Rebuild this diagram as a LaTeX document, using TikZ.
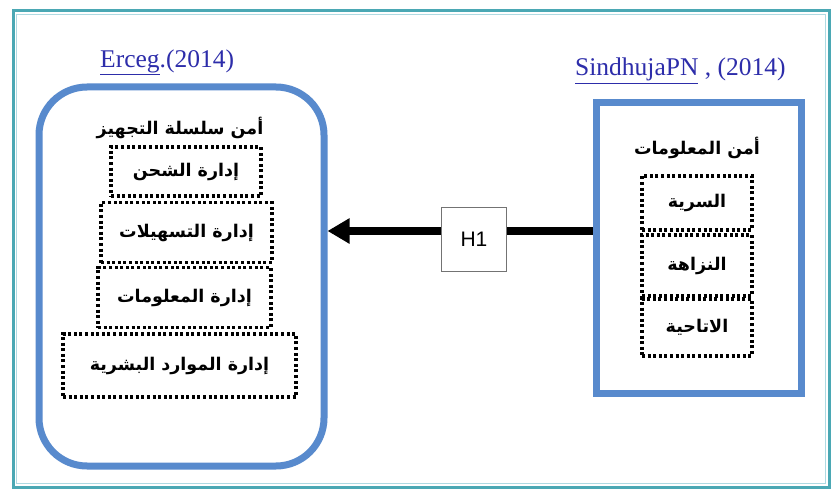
\documentclass[tikz,border=0pt]{standalone}
\usepackage{fontspec}
\setmainfont{Liberation Serif}
\newfontfamily\arabicfont[Script=Arabic]{DejaVu Sans}
\newfontfamily\hfont{Liberation Sans}
\TeXXeTstate=1
\usetikzlibrary{arrows.meta}
\definecolor{frameteal}{RGB}{75,168,180}
\definecolor{framelight}{RGB}{175,218,226}
\definecolor{boxblue}{RGB}{88,138,205}
\definecolor{refblue}{RGB}{45,45,170}
\tikzset{
  dotbox/.style={draw=black, line width=3.4pt, dash pattern=on 3pt off 2.6pt, inner sep=0pt},
  artext/.style={font=\arabicfont\bfseries\fontsize{17.5}{20}\selectfont, text=black},
  reftext/.style={font=\fontsize{25.5}{28}\selectfont, text=refblue, inner sep=0pt},
  bigbox/.style={draw=boxblue, line width=7pt},
}
\begin{document}
\begin{tikzpicture}[x=1pt,y=-1pt]
\useasboundingbox (0,0) rectangle (833,495);
\fill[white] (0,0) rectangle (833,495);
% outer frame
\draw[frameteal, line width=3pt] (13,11) rectangle (829,487);
\draw[framelight, line width=1.5pt] (16.5,14.5) rectangle (825.5,483.5);

% left rounded box
\node[bigbox, rounded corners=48pt, minimum width=285pt, minimum height=379pt] (scs) at (181.5,276.5) {};
\node[reftext, anchor=base west] (erceg) at (100,67) {\underline{Erceg}.(2014)};
\node[artext] (scstitle) at (180,128) {\beginR أمن سلسلة التجهيز\endR};
\node[dotbox, minimum width=150pt, minimum height=49pt] (b1) at (186,171.5) {};
\node[artext] (b1t) at (b1.center) {\beginR إدارة الشحن\endR};
\node[dotbox, minimum width=171pt, minimum height=60pt] (b2) at (186.5,232.5) {};
\node[artext] (b2t) at (b2.center) {\beginR إدارة التسهيلات\endR};
\node[dotbox, minimum width=173pt, minimum height=60pt] (b3) at (184.5,297.5) {};
\node[artext] (b3t) at (b3.center) {\beginR إدارة المعلومات\endR};
\node[dotbox, minimum width=233pt, minimum height=63pt] (b4) at (179.5,365.5) {};
\node[artext] (b4t) at (b4.center) {\beginR إدارة الموارد البشرية\endR};

% right box
\node[bigbox, minimum width=205pt, minimum height=291pt] (is) at (698.5,247.5) {};
\node[reftext, anchor=base west] (sind) at (575,76) {\underline{SindhujaPN} , (2014)};
\node[artext] (istitle) at (697,148) {\beginR أمن المعلومات\endR};
\node[dotbox, minimum width=110pt, minimum height=54pt] (r1) at (697,203) {};
\node[artext] (r1t) at (r1.center) {\beginR السرية\endR};
\node[dotbox, minimum width=110pt, minimum height=61pt] (r2) at (697,265.5) {};
\node[artext] (r2t) at (r2.center) {\beginR النزاهة\endR};
\node[dotbox, minimum width=110pt, minimum height=57pt] (r3) at (697,327.5) {};
\node[artext] (r3t) at (r3.center) {\beginR الاتاحية\endR};

% H1 and arrow
\node[draw=black!55, line width=1pt, fill=white, minimum width=65pt, minimum height=64pt, font=\hfont\fontsize{21}{24}\selectfont] (h1) at (474,239) {H1};
\draw[line width=7.5pt] (is.west |- 0,231) -- (h1.east |- 0,231);
\draw[line width=7.5pt, -{Triangle[length=22pt,width=24pt]}] (h1.west |- 0,231) -- (scs.east |- 0,231);
\end{tikzpicture}
\end{document}
